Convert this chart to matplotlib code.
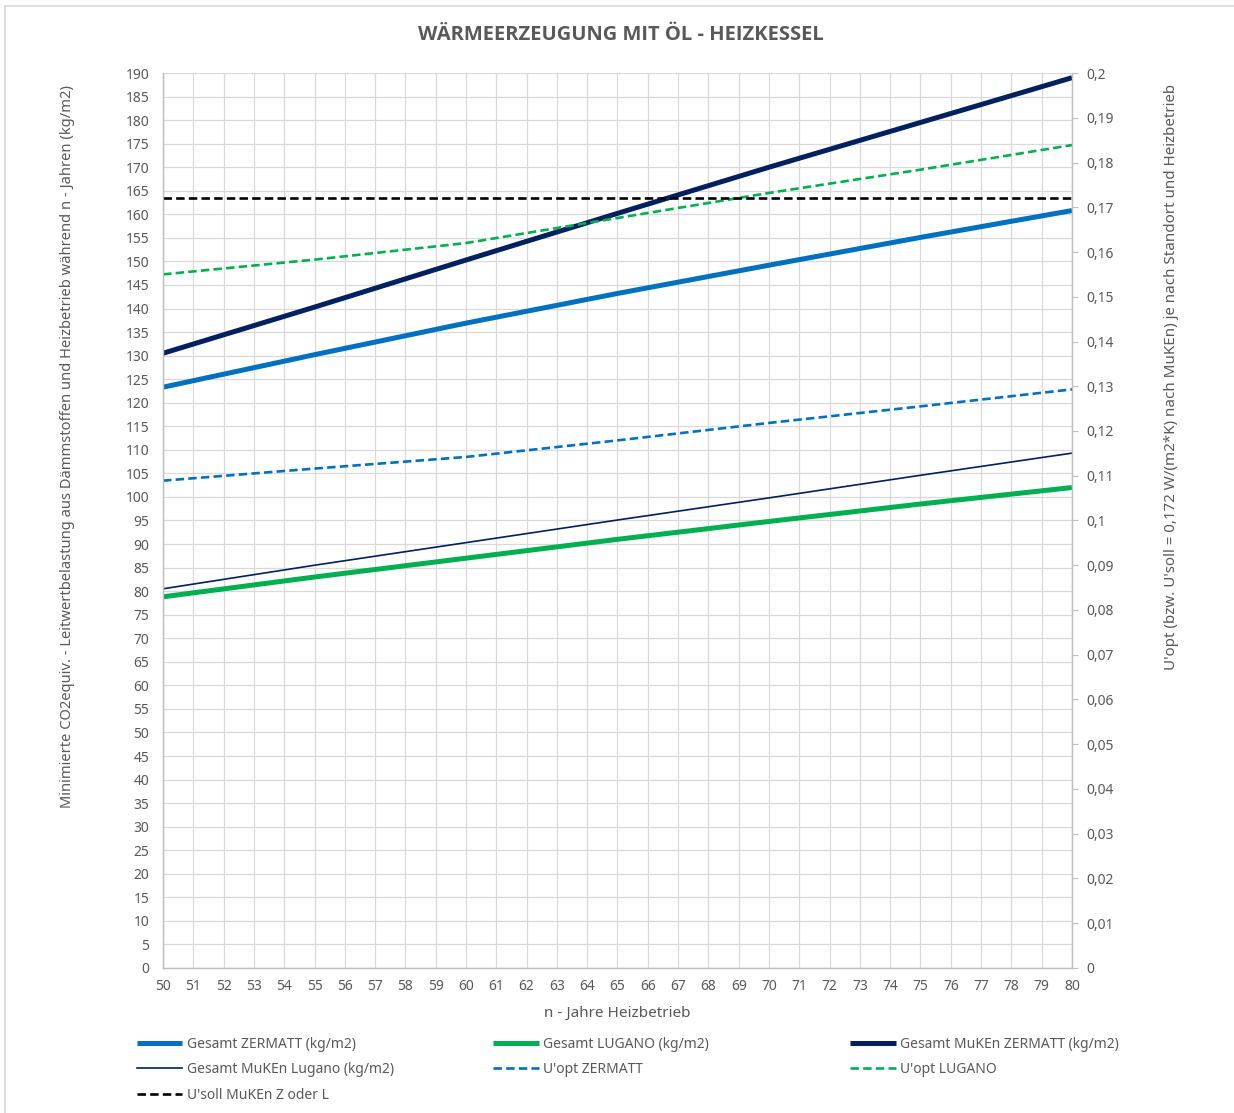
import matplotlib.pyplot as plt
from matplotlib.patches import Rectangle
from matplotlib.ticker import MultipleLocator, FuncFormatter

plt.rcParams['font.family'] = ['Noto Sans', 'DejaVu Sans']

# Jahre Heizbetrieb
jahre = [50, 55, 60, 65, 70, 75, 80]

# Gesamtbelastung (kg/m2), linke Achse
gesamt_zermatt = [123.3, 130.2, 136.9, 143.2, 149.2, 155.1, 160.8]
gesamt_lugano = [78.8, 83.0, 87.0, 91.0, 94.8, 98.5, 102.0]
gesamt_muken_zermatt = [130.5, 140.3, 150.3, 160.2, 170.0, 179.5, 189.0]
gesamt_muken_lugano = [80.5, 85.5, 90.3, 95.1, 99.8, 104.6, 109.3]

# U-Werte W/(m2*K), rechte Achse
uopt_zermatt = [0.1089, 0.1116, 0.1142, 0.1179, 0.1218, 0.1255, 0.1293]
uopt_lugano = [0.1550, 0.1583, 0.1620, 0.1676, 0.1732, 0.1784, 0.1839]
usoll_muken = 0.172

GRAU = '#595959'
BLAU = '#0070C0'
GRUEN = '#00B050'
NAVY = '#002060'
DASH = (0, (3.2, 1.6))

fig = plt.figure(figsize=(12.34, 11.13), dpi=100)
fig.patches.append(Rectangle((0.004, -0.01), 1.1, 1.0046, transform=fig.transFigure,
                             fill=False, edgecolor='#D9D9D9', linewidth=1.2))

ax = fig.add_axes([0.1321, 0.1303, 0.7366, 0.8041])
ax2 = ax.twinx()

l1, = ax.plot(jahre, gesamt_zermatt, color=BLAU, lw=3.6, solid_capstyle='butt', label='Gesamt ZERMATT (kg/m2)')
l2, = ax.plot(jahre, gesamt_lugano, color=GRUEN, lw=3.6, solid_capstyle='butt', label='Gesamt LUGANO (kg/m2)')
l3, = ax.plot(jahre, gesamt_muken_zermatt, color=NAVY, lw=3.6, solid_capstyle='butt', label='Gesamt MuKEn ZERMATT (kg/m2)')
l4, = ax.plot(jahre, gesamt_muken_lugano, color=NAVY, lw=1.2, label='Gesamt MuKEn Lugano (kg/m2)')
l5, = ax2.plot(jahre, uopt_zermatt, color=BLAU, lw=1.9, linestyle=DASH, label="U'opt ZERMATT")
l6, = ax2.plot(jahre, uopt_lugano, color=GRUEN, lw=1.9, linestyle=DASH, label="U'opt LUGANO")
l7, = ax2.plot([jahre[0], jahre[-1]], [usoll_muken, usoll_muken], color='black', lw=1.9,
               linestyle=DASH, label="U'soll MuKEn Z oder L")

ax.set_xlim(50, 80)
ax.set_ylim(0, 190)
ax2.set_ylim(0, 0.2)
ax.xaxis.set_major_locator(MultipleLocator(1))
ax.yaxis.set_major_locator(MultipleLocator(5))
ax2.yaxis.set_major_locator(MultipleLocator(0.01))
ax2.yaxis.set_major_formatter(FuncFormatter(lambda v, p: f'{round(v, 2):g}'.replace('.', ',')))

ax.grid(True, color='#D9D9D9', lw=0.9)
ax.set_axisbelow(True)
ax.tick_params(axis='both', length=0, labelsize=10, labelcolor=GRAU)
ax.tick_params(axis='y', pad=10)
ax.tick_params(axis='x', pad=8)
ax2.tick_params(axis='y', length=4, width=0.8, color='#BFBFBF', labelsize=10, labelcolor=GRAU, pad=6.5)

for a in (ax, ax2):
    a.spines['top'].set_visible(False)
    for side in ('left', 'right', 'bottom'):
        a.spines[side].set_color('#BFBFBF')
        a.spines[side].set_linewidth(0.9)

fig.text(0.5034, 0.9686, 'WÄRMEERZEUGUNG MIT ÖL - HEIZKESSEL', ha='center', va='center',
         fontsize=14.5, fontweight='bold', family=['Open Sans', 'DejaVu Sans'], color=GRAU)
fig.text(0.500, 0.0898, 'n - Jahre Heizbetrieb', ha='center', va='center', fontsize=11, color=GRAU)
fig.text(0.0543, 0.5984, 'Minimierte CO2equiv. - Leitwertbelastung aus Dämmstoffen und Heizbetrieb während n - Jahren (kg/m2)',
         rotation=90, ha='center', va='center', fontsize=10.6, color=GRAU)
fig.text(0.9497, 0.6613, "U'opt (bzw. U'soll = 0,172 W/(m2*K) nach MuKEn) je nach Standort und Heizbetrieb",
         rotation=90, ha='center', va='center', fontsize=10.9, color=GRAU)

# Legende in drei gleich breiten Spalten
spalten = [([l1, l4, l7], 0.1107), ([l2, l5], 0.3997), ([l3, l6], 0.6887)]
for handles, x0 in spalten:
    leg = fig.legend(handles=handles, loc='upper left', bbox_to_anchor=(x0, 0.0685),
                     frameon=False, fontsize=10, handlelength=3.3, handletextpad=0.3,
                     labelspacing=0.75, borderaxespad=0, borderpad=0)
    for t in leg.get_texts():
        t.set_color(GRAU)

fig.savefig('out.png', dpi=100)
